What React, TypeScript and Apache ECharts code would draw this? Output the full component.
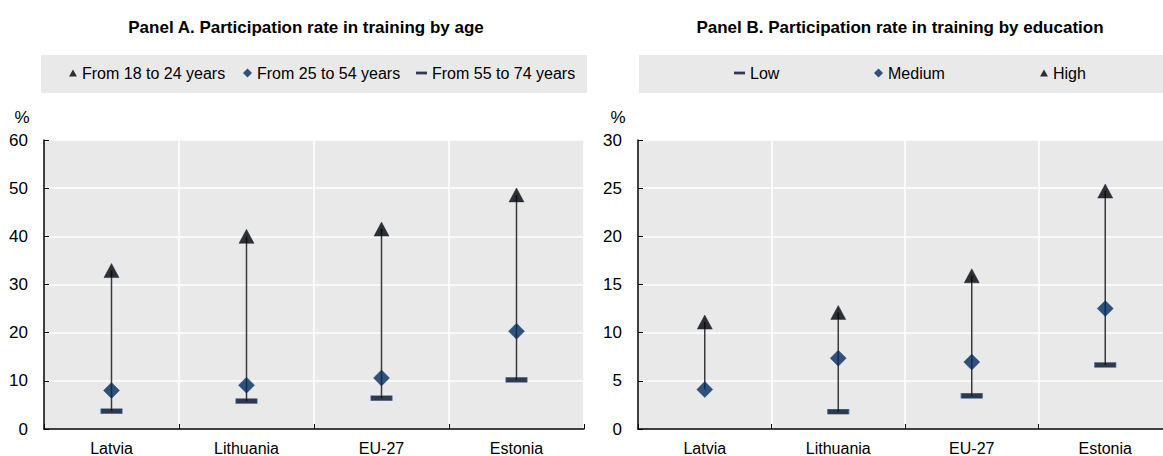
import React, { useEffect, useRef } from "react";
import * as echarts from "echarts";

const categories = ["Latvia", "Lithuania", "EU-27", "Estonia"];

// Panel A: by age
const age18to24 = [32.9, 40.0, 41.5, 48.6];
const age25to54 = [8.0, 9.1, 10.6, 20.3];
const age55to74 = [3.7, 5.8, 6.4, 10.2];

// Panel B: by education
const eduLow: (number | null)[] = [null, 1.8, 3.45, 6.65];
const eduMedium = [4.1, 7.35, 6.95, 12.5];
const eduHigh = [11.1, 12.1, 15.9, 24.7];

const ticksA = { min: 0, max: 60, interval: 10 };
const ticksB = { min: 0, max: 30, interval: 5 };

const FONT = "'Liberation Sans Narrow', 'Arial Narrow', 'Liberation Sans', Arial, sans-serif";
const BG = "#e9e9e9";
const NAVY = "#002a5e";

const TRI = "path://M5,0L10,9L0,9Z";
const DIA = "path://M5,0L10,5L5,10L0,5Z";
const BAR = "path://M0,0H12V3H0Z";

function ranges(groups: (number | null)[][]) {
  return categories.map((_, i) => {
    const vals = groups.map((g) => g[i]).filter((v) => v !== null && v !== undefined) as number[];
    return [i, Math.min(...vals), Math.max(...vals)];
  });
}

export default function App() {
  const ref = useRef<HTMLDivElement>(null);
  useEffect(() => {
    if (!ref.current) return;
    const chart = echarts.init(ref.current, undefined, { renderer: "svg" });

    const renderRange = (params: any, api: any) => {
      const x = api.value(0);
      const p1 = api.coord([x, api.value(1)]);
      const p2 = api.coord([x, api.value(2)]);
      return {
        type: "line",
        shape: { x1: p1[0], y1: p1[1], x2: p2[0], y2: p2[1] },
        style: { stroke: "#3a3a3a", lineWidth: 1.5 },
      };
    };

    const xAxisBase = (gridIndex: number) => ({
      type: "category",
      gridIndex,
      data: categories,
      boundaryGap: true,
      axisLine: { show: true, lineStyle: { color: "#000", width: 1.5 } },
      axisTick: { show: true, inside: true, length: 5, lineStyle: { color: "#000", width: 1 } },
      axisLabel: { color: "#000", fontSize: 16, fontFamily: FONT, margin: 11 },
      splitLine: { show: true, lineStyle: { color: "#ffffff", width: 1.5 } },
    });
    const yAxisBase = (gridIndex: number, t: any) => ({
      type: "value",
      gridIndex,
      min: t.min,
      max: t.max,
      interval: t.interval,
      axisLine: { show: true, lineStyle: { color: "#000", width: 1.5 } },
      axisTick: { show: true, inside: true, length: 5, lineStyle: { color: "#000", width: 1 } },
      axisLabel: { color: "#000", fontSize: 17, fontFamily: FONT, margin: 16 },
      splitLine: { show: true, lineStyle: { color: "#ffffff", width: 1.5 } },
    });

    const triStyle = { color: "#000000", borderColor: "#0f2a55", borderWidth: 0.6 };
    const diaStyle = { color: NAVY, borderColor: "#0b3a75", borderWidth: 0.5 };
    const barStyle = { color: "#000d26", borderColor: "#2d5a99", borderWidth: 0.6 };

    const legendText = { color: "#000", fontSize: 16, fontFamily: FONT };
    const leg = (name: string, left: number, icon: string, w: number, style: any) => ({
      data: [name],
      left,
      top: 65,
      padding: 0,
      icon,
      itemWidth: w,
      itemHeight: 10,
      itemStyle: { ...style, borderWidth: 0 },
      textStyle: legendText,
      selectedMode: false,
    });

    chart.setOption({
      animation: false,
      backgroundColor: "#ffffff",
      textStyle: { fontFamily: FONT },
      graphic: [
        { type: "rect", shape: { x: 41, y: 55, width: 546, height: 38 }, style: { fill: BG }, silent: true },
        { type: "rect", shape: { x: 639, y: 55, width: 540, height: 38 }, style: { fill: BG }, silent: true },
        {
          type: "text", x: 306, y: 27,
          style: { text: "Panel A. Participation rate in training by age", fill: "#000", font: `bold 17px ${FONT}`, textAlign: "center", textVerticalAlign: "middle" },
        },
        {
          type: "text", x: 900, y: 27,
          style: { text: "Panel B. Participation rate in training by education", fill: "#000", font: `bold 17px ${FONT}`, textAlign: "center", textVerticalAlign: "middle" },
        },
        { type: "text", x: 22, y: 117, style: { text: "%", fill: "#000", font: `17px ${FONT}`, textAlign: "center", textVerticalAlign: "middle" } },
        { type: "text", x: 618, y: 117, style: { text: "%", fill: "#000", font: `17px ${FONT}`, textAlign: "center", textVerticalAlign: "middle" } },
      ],
      legend: [
        leg("From 18 to 24 years", 69, TRI, 8, triStyle),
        leg("From 25 to 54 years", 243, DIA, 9, diaStyle),
        leg("From 55 to 74 years", 416, BAR, 11, barStyle),
        leg("Low", 734, BAR, 11, barStyle),
        leg("Medium", 874, DIA, 9, diaStyle),
        leg("High", 1040, TRI, 8, triStyle),
      ],
      grid: [
        { left: 44, top: 140, width: 540, height: 295, backgroundColor: BG, show: true, borderWidth: 0 },
        { left: 638, top: 140, width: 534, height: 295, backgroundColor: BG, show: true, borderWidth: 0 },
      ],
      xAxis: [xAxisBase(0), xAxisBase(1)],
      yAxis: [yAxisBase(0, ticksA), yAxisBase(1, ticksB)],
      series: [
        {
          type: "custom", name: "rangeA", xAxisIndex: 0, yAxisIndex: 0, z: 1,
          renderItem: renderRange, encode: { x: 0, y: [1, 2] },
          data: ranges([age18to24, age25to54, age55to74]),
        },
        {
          type: "custom", name: "rangeB", xAxisIndex: 1, yAxisIndex: 1, z: 1,
          renderItem: renderRange, encode: { x: 0, y: [1, 2] },
          data: ranges([eduLow, eduMedium, eduHigh]),
        },
        { type: "scatter", name: "From 55 to 74 years", xAxisIndex: 0, yAxisIndex: 0, z: 3, symbol: "rect", symbolSize: [21, 5], itemStyle: barStyle, data: age55to74 },
        { type: "scatter", name: "From 25 to 54 years", xAxisIndex: 0, yAxisIndex: 0, z: 3, symbol: "diamond", symbolSize: [16, 16], itemStyle: diaStyle, data: age25to54 },
        { type: "scatter", name: "From 18 to 24 years", xAxisIndex: 0, yAxisIndex: 0, z: 3, symbol: "triangle", symbolSize: [15, 14], itemStyle: triStyle, data: age18to24 },
        { type: "scatter", name: "Low", xAxisIndex: 1, yAxisIndex: 1, z: 3, symbol: "rect", symbolSize: [21, 5], itemStyle: barStyle, data: eduLow },
        { type: "scatter", name: "Medium", xAxisIndex: 1, yAxisIndex: 1, z: 3, symbol: "diamond", symbolSize: [16, 16], itemStyle: diaStyle, data: eduMedium },
        { type: "scatter", name: "High", xAxisIndex: 1, yAxisIndex: 1, z: 3, symbol: "triangle", symbolSize: [15, 14], itemStyle: triStyle, data: eduHigh },
      ],
    });
    return () => chart.dispose();
  }, []);

  return (
    <div style={{ position: "fixed", left: 0, top: 0, width: 1163, height: 456, overflow: "hidden", background: "#fff" }}>
      <div ref={ref} style={{ width: 1175, height: 456 }} />
    </div>
  );
}
